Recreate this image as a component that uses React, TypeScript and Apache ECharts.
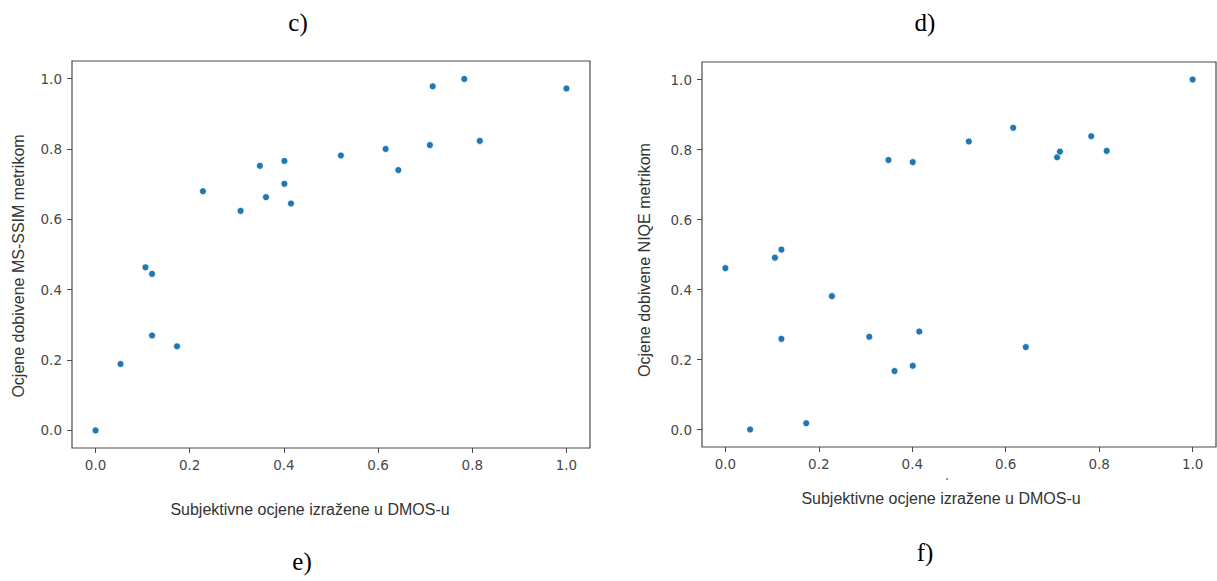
import React, { useEffect, useRef } from "react";
import * as echarts from "echarts";

// Subjective DMOS scores (x) shared by both panels
const dmos = [0.0, 0.053, 0.106, 0.12, 0.12, 0.173, 0.228, 0.308, 0.349, 0.362, 0.401, 0.401, 0.415, 0.521, 0.616, 0.643, 0.71, 0.716, 0.783, 0.816, 1.0];
// MS-SSIM scores (left panel)
const msssim = [0.0, 0.189, 0.4635, 0.445, 0.27, 0.239, 0.68, 0.624, 0.752, 0.663, 0.766, 0.701, 0.645, 0.7815, 0.8, 0.74, 0.811, 0.978, 0.999, 0.823, 0.972];
// NIQE scores (right panel)
const niqe = [0.461, 0.0, 0.491, 0.514, 0.259, 0.018, 0.381, 0.265, 0.77, 0.167, 0.764, 0.182, 0.28, 0.823, 0.862, 0.2355, 0.778, 0.794, 0.838, 0.796, 1.0];

const tickValues = [0.0, 0.2, 0.4, 0.6, 0.8, 1.0];
const xTitle = "Subjektivne ocjene izražene u DMOS-u";
const yTitleLeft = "Ocjene dobivene MS-SSIM metrikom";
const yTitleRight = "Ocjene dobivene NIQE metrikom";
const panelLabels = ["c)", "d)", "e)", "f)"];

const tickColor = "#484848";
const frameColor = "#4a4a4a";
const pointColor = "#1f77b4";

function makeAxis(gridIndex: number) {
  return {
    type: "value",
    gridIndex,
    min: -0.05,
    max: 1.05,
    splitLine: { show: false },
    axisLine: { show: false, onZero: false },
    axisTick: {
      show: true,
      inside: false,
      length: 5,
      customValues: tickValues,
      lineStyle: { color: frameColor, width: 1 },
    },
    axisLabel: {
      show: true,
      customValues: tickValues,
      margin: 10,
      color: tickColor,
      fontFamily: "DejaVu Sans",
      fontSize: 13.5,
      formatter: (v: number) => v.toFixed(1),
    },
  };
}

export default function App() {
  const ref = useRef<HTMLDivElement>(null);

  useEffect(() => {
    if (!ref.current) return;
    const chart = echarts.init(ref.current, undefined, { renderer: "svg" });
    const leftData = dmos.map((x, i) => [x, msssim[i]]);
    const rightData = dmos.map((x, i) => [x, niqe[i]]);
    const textBase = { fill: "#333", fontFamily: "Liberation Sans", fontSize: 16 };
    const serif = { fill: "#000", fontFamily: "Liberation Serif", fontSize: 25 };

    chart.setOption({
      animation: false,
      backgroundColor: "#ffffff",
      grid: [
        { left: 72, top: 61, width: 518, height: 387, show: true, borderColor: frameColor, borderWidth: 1.2, backgroundColor: "transparent" },
        { left: 702, top: 62, width: 514, height: 385, show: true, borderColor: frameColor, borderWidth: 1.2, backgroundColor: "transparent" },
      ],
      xAxis: [makeAxis(0), makeAxis(1)],
      yAxis: [makeAxis(0), makeAxis(1)],
      series: [
        {
          type: "scatter",
          xAxisIndex: 0,
          yAxisIndex: 0,
          data: leftData,
          symbolSize: 7,
          itemStyle: { color: pointColor, borderColor: "#ffffff", borderWidth: 0.8, opacity: 1 },
        },
        {
          type: "scatter",
          xAxisIndex: 1,
          yAxisIndex: 1,
          data: rightData,
          symbolSize: 7,
          itemStyle: { color: pointColor, borderColor: "#ffffff", borderWidth: 0.8, opacity: 1 },
        },
      ],
      graphic: [
        { type: "text", x: 298, y: 22, style: { ...serif, text: panelLabels[0], textAlign: "center", textVerticalAlign: "middle" } },
        { type: "text", x: 925, y: 22, style: { ...serif, text: panelLabels[1], textAlign: "center", textVerticalAlign: "middle" } },
        { type: "text", x: 302, y: 561, style: { ...serif, text: panelLabels[2], textAlign: "center", textVerticalAlign: "middle" } },
        { type: "text", x: 925, y: 552, style: { ...serif, text: panelLabels[3], textAlign: "center", textVerticalAlign: "middle" } },
        { type: "text", x: 310, y: 509, style: { ...textBase, text: xTitle, textAlign: "center", textVerticalAlign: "middle" } },
        { type: "text", x: 941, y: 498, style: { ...textBase, text: xTitle, textAlign: "center", textVerticalAlign: "middle" } },
        { type: "text", x: 18, y: 266, rotation: Math.PI / 2, style: { ...textBase, text: yTitleLeft, textAlign: "center", textVerticalAlign: "middle" } },
        { type: "text", x: 644, y: 260, rotation: Math.PI / 2, style: { ...textBase, text: yTitleRight, textAlign: "center", textVerticalAlign: "middle" } },
        { type: "rect", shape: { x: 946.5, y: 478, width: 1.2, height: 2 }, style: { fill: "#555" } },
      ],
    });
    return () => chart.dispose();
  }, []);

  return (
    <div
      ref={ref}
      style={{ position: "fixed", left: 0, top: 0, width: 1217, height: 581, background: "#fff" }}
    />
  );
}
